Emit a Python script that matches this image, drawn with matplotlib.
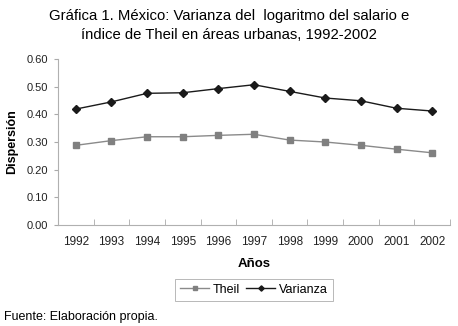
import matplotlib
matplotlib.use("Agg")
from matplotlib import pyplot as plt
import numpy as np

years = ['1992', '1993', '1994', '1995', '1996', '1997',
         '1998', '1999', '2000', '2001', '2002']
theil = [0.288, 0.305, 0.319, 0.319, 0.324, 0.328,
         0.307, 0.300, 0.288, 0.274, 0.261]
varianza = [0.419, 0.445, 0.476, 0.478, 0.493, 0.507,
            0.483, 0.459, 0.449, 0.422, 0.412]
y_ticks = [0.0, 0.1, 0.2, 0.3, 0.4, 0.5, 0.6]

plt.rcParams['font.family'] = ['Liberation Sans', 'DejaVu Sans']

fig = plt.figure(figsize=(4.58, 3.26), dpi=100)
ax = fig.add_axes([0.1266, 0.3098, 0.8559, 0.5092])

x = np.arange(len(years))
ax.plot(x, theil, color='#8a8a8a', lw=1.0, marker='s', ms=5,
        mfc='#808080', mec='#808080', label='Theil')
ax.plot(x, varianza, color='#1a1a1a', lw=1.0, marker='D', ms=4.5,
        mfc='#1a1a1a', mec='#1a1a1a', label='Varianza')

ax.set_xlim(-0.5, len(years) - 0.5)
ax.set_ylim(0, 0.6)
ax.set_yticks(y_ticks)
ax.set_yticklabels([f"{v:.2f}" for v in y_ticks], fontsize=8, color='#222222')
ax.set_xticks(x)
ax.set_xticklabels(years, fontsize=8.5, color='#222222')
ax.set_xticks(np.arange(len(years) + 1) - 0.5, minor=True)
ax.tick_params(axis='x', which='major', length=0, pad=8)
ax.tick_params(axis='x', which='minor', length=4, direction='in', color='#aaaaaa')
ax.tick_params(axis='y', length=3, direction='out', color='#aaaaaa', pad=4)

for s in ('top', 'right'):
    ax.spines[s].set_visible(False)
for s in ('left', 'bottom'):
    ax.spines[s].set_color('#b0b0b0')
    ax.spines[s].set_linewidth(0.8)

ax.set_ylabel('Dispersión', fontweight='bold', fontsize=9, labelpad=6)
ax.set_xlabel('Años', fontweight='bold', fontsize=9.5, labelpad=7)

fig.text(0.5, 0.951, 'Gráfica 1. México: Varianza del  logaritmo del salario e',
         ha='center', va='center', fontsize=10.7)
fig.text(0.5, 0.893, 'índice de Theil en áreas urbanas, 1992-2002',
         ha='center', va='center', fontsize=10.7)

leg = ax.legend(loc='center', bbox_to_anchor=(0.5, -0.39), ncol=2,
                frameon=True, fancybox=False, fontsize=9, handlelength=2.3,
                handletextpad=0.3, columnspacing=0.5, borderpad=0.4,
                markerscale=0.6)
leg.get_frame().set_edgecolor('#999999')
leg.get_frame().set_linewidth(0.6)

fig.text(0.009, 0.028, 'Fuente: Elaboración propia.', ha='left', va='center',
         fontsize=9)

plt.savefig('out.png', dpi=100)
plt.close()
